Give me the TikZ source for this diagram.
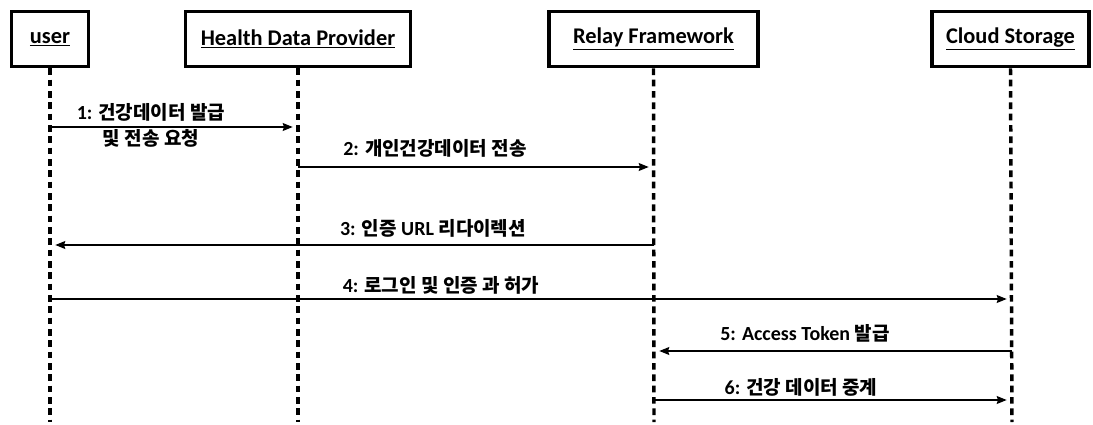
\documentclass[tikz,border=0pt]{standalone}
\usepackage{fontspec}
\setmainfont{Carlito}
\newfontfamily\kr{Noto Sans CJK KR}[Scale=0.95]
\usetikzlibrary{arrows.meta}
\begin{document}
\begin{tikzpicture}[x=0.75pt,y=-0.75pt,
  actor/.style={draw, line width=2.6pt, minimum height=41.5pt, inner sep=0pt,
    font=\fontsize{16.8}{20}\selectfont\bfseries},
  life/.style={line width=2.6pt, dash pattern=on 5pt off 3.5pt},
  msg/.style={line width=0.9pt, shorten >=4pt, -{Stealth[length=7.5pt,width=6pt,inset=1pt]}},
  lbl/.style={font=\fontsize{15}{19}\selectfont\bfseries, inner sep=0pt, align=center}]
\useasboundingbox (0,0) rectangle (1093,425);
% actors
\node[actor, minimum width=57.5pt]   (user)  at (50,39)     {\underline{user}};
\node[actor, minimum width=169pt]    (hdp)   at (298,39)    {\underline{Health Data Provider}};
\node[actor, minimum width=157pt]    (relay) at (653.5,39)  {\underline{Relay Framework}};
\node[actor, minimum width=118pt]    (cloud) at (1010.5,39) {\underline{Cloud Storage}};
% lifeline ends
\coordinate (userend)  at (50,422);
\coordinate (hdpend)   at (298,422);
\coordinate (relayend) at (654,422);
\coordinate (cloudend) at (1012,422);
\draw[life] (user.south)  -- (userend);
\draw[life] (hdp.south)   -- (hdpend);
\draw[life] (relay.south) -- (relayend);
\draw[life] (cloud.south) -- (cloudend);
% messages
\draw[msg] (userend |- 0,127) -- (hdpend |- 0,127);
\node[lbl] (l1) at (151,125.5) {1: {\kr 건강데이터 발급}\\{\kr 및 전송 요청}};
\draw[msg] (hdpend |- 0,167) -- (relayend |- 0,167);
\node[lbl] (l2) at (435,148) {2: {\kr 개인건강데이터 전송}};
\draw[msg] (relayend |- 0,245) -- (userend |- 0,245);
\node[lbl] (l3) at (433,228) {3: {\kr 인증} URL {\kr 리다이렉션}};
\draw[msg] (userend |- 0,299) -- (cloudend |- 0,299);
\node[lbl] (l4) at (441,285) {4: {\kr 로그인 및 인증 과 허가}};
\draw[msg] (cloudend |- 0,351) -- (relayend |- 0,351);
\node[lbl] (l5) at (805,333) {5: Access Token {\kr 발급}};
\draw[msg] (relayend |- 0,400) -- (cloudend |- 0,400);
\node[lbl] (l6) at (801,387) {6: {\kr 건강 데이터 중계}};
\end{tikzpicture}
\end{document}
